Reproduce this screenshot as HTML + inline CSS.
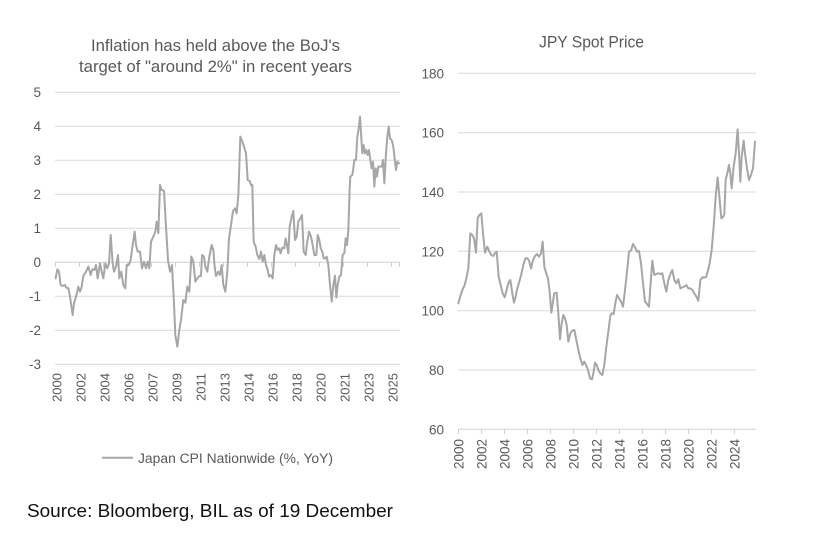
<!DOCTYPE html>
<html><head><meta charset="utf-8"><style>
html,body{margin:0;padding:0;background:#fff;}
svg{display:block;}
text{font-family:"Liberation Sans",Arial,sans-serif;fill:#595959;}
</style></head><body>
<svg width="838" height="544" viewBox="0 0 838 544" xmlns="http://www.w3.org/2000/svg">
<rect width="838" height="544" fill="#fff"/>

<!-- LEFT CHART -->
<text x="215.5" y="51" font-size="17" text-anchor="middle" textLength="249" lengthAdjust="spacingAndGlyphs">Inflation has held above the BoJ's</text>
<text x="215.5" y="72" font-size="17" text-anchor="middle" textLength="273" lengthAdjust="spacingAndGlyphs">target of "around 2%" in recent years</text>

<g stroke="#D9D9D9" stroke-width="1">
<line x1="55" x2="400" y1="92.3" y2="92.3"/>
<line x1="55" x2="400" y1="126.3" y2="126.3"/>
<line x1="55" x2="400" y1="160.3" y2="160.3"/>
<line x1="55" x2="400" y1="194.3" y2="194.3"/>
<line x1="55" x2="400" y1="228.3" y2="228.3"/>
<line x1="55" x2="400" y1="296.3" y2="296.3"/>
<line x1="55" x2="400" y1="330.3" y2="330.3"/>
<line x1="55" x2="400" y1="364.3" y2="364.3"/>
</g>
<g stroke="#D0D0D0" stroke-width="1">
<line x1="55" x2="400" y1="262.3" y2="262.3"/>
<line x1="55.5" x2="55.5" y1="262" y2="267"/>
<line x1="79.5" x2="79.5" y1="262" y2="267"/>
<line x1="103.5" x2="103.5" y1="262" y2="267"/>
<line x1="127.5" x2="127.5" y1="262" y2="267"/>
<line x1="151.5" x2="151.5" y1="262" y2="267"/>
<line x1="175.5" x2="175.5" y1="262" y2="267"/>
<line x1="199.5" x2="199.5" y1="262" y2="267"/>
<line x1="223.5" x2="223.5" y1="262" y2="267"/>
<line x1="247.5" x2="247.5" y1="262" y2="267"/>
<line x1="271.5" x2="271.5" y1="262" y2="267"/>
<line x1="295.5" x2="295.5" y1="262" y2="267"/>
<line x1="319.5" x2="319.5" y1="262" y2="267"/>
<line x1="343.5" x2="343.5" y1="262" y2="267"/>
<line x1="367.5" x2="367.5" y1="262" y2="267"/>
<line x1="391.5" x2="391.5" y1="262" y2="267"/>
<line x1="399.5" x2="399.5" y1="262" y2="267"/>
</g>

<g font-size="13.5" text-anchor="end">
<text x="41" y="97">5</text>
<text x="41" y="131">4</text>
<text x="41" y="165">3</text>
<text x="41" y="199">2</text>
<text x="41" y="233">1</text>
<text x="41" y="267">0</text>
<text x="41" y="301">-1</text>
<text x="41" y="335">-2</text>
<text x="41" y="369">-3</text>
</g>

<g font-size="13" text-anchor="end">
<text transform="translate(61.4,373) rotate(-90)">2000</text>
<text transform="translate(85.4,373) rotate(-90)">2002</text>
<text transform="translate(109.4,373) rotate(-90)">2004</text>
<text transform="translate(133.4,373) rotate(-90)">2006</text>
<text transform="translate(157.4,373) rotate(-90)">2007</text>
<text transform="translate(181.4,373) rotate(-90)">2009</text>
<text transform="translate(205.4,373) rotate(-90)">2011</text>
<text transform="translate(229.4,373) rotate(-90)">2013</text>
<text transform="translate(253.4,373) rotate(-90)">2014</text>
<text transform="translate(277.4,373) rotate(-90)">2016</text>
<text transform="translate(301.4,373) rotate(-90)">2018</text>
<text transform="translate(325.4,373) rotate(-90)">2020</text>
<text transform="translate(349.4,373) rotate(-90)">2021</text>
<text transform="translate(373.4,373) rotate(-90)">2023</text>
<text transform="translate(397.4,373) rotate(-90)">2025</text>
</g>

<g fill="none" stroke="#A6A6A6" stroke-width="2" stroke-linejoin="round" stroke-linecap="round">
<g transform="translate(50,170) scale(0.33333)">
<polyline vector-effect="non-scaling-stroke" points="17,325 22,298 27,305 32,345 38,348 45,345 48,352 55,355 60,380 68,435 72,400 78,380 85,350 90,365 95,350 100,318 108,305 115,290 122,315 127,298 133,300 138,285 143,325 150,280 155,305 160,325 166,280 172,295 177,280 182,195 188,280 192,305 198,290 204,255 208,325 214,305 220,345 226,355 230,285 236,285 242,270 248,225 254,185 258,225 263,245 270,245 276,295 282,275 288,295 293,275 298,295 303,215 310,200 316,185 320,155 325,190 330,45 335,60 342,62 348,170 354,270 360,305 366,285 372,400 376,495 382,530 388,480 393,450 400,390 406,398 412,350 418,365 424,260 430,275 436,335 442,325 448,318 453,318 456,255 462,260 466,290 472,305 478,260 485,225 490,240 494,290 498,318 505,305 510,315 515,285 520,345 526,365 532,305 537,204"/>
</g>
<g transform="translate(225,105) scale(0.33333)">
<polyline vector-effect="non-scaling-stroke" points="12,400 18,360 24,318 30,310 35,325 40,270 46,95 52,110 57,125 63,145 68,225 74,228 78,240 82,240 86,410 92,425 97,450 103,462 108,440 113,470 118,450 123,480 128,495 132,515 138,510 143,520 148,450 153,420 158,435 163,430 167,445 172,428 178,430 182,400 186,420 190,445 194,365 200,335 205,318 210,405 215,395 220,350 226,340 231,330 236,440 242,450 247,410 252,380 258,395 263,420 268,450 274,450 278,390 283,405 287,430 292,440 296,460 300,460 305,455 310,480 315,540 320,590 325,540 330,512 334,578 338,540 343,515 348,510 353,450 358,445 362,400 366,420 370,375 374,250 376,215 382,210 385,190 388,165 393,165 397,95 402,65 405,35 409,100 412,145 416,120 420,145 424,135 428,150 432,135 436,165 440,190 444,170 448,245 452,190 456,215 460,185 465,185 470,185 474,165 478,235 483,145 487,95 491,65 495,100 500,105 505,125 510,170 513,195 517,170 522,175"/>
</g>
</g>

<line x1="102" x2="133" y1="457.7" y2="457.7" stroke="#A6A6A6" stroke-width="2"/>
<text x="138" y="463" font-size="13.5" textLength="195" lengthAdjust="spacingAndGlyphs">Japan CPI Nationwide (%, YoY)</text>

<!-- RIGHT CHART -->
<text x="591.5" y="47.5" font-size="17" text-anchor="middle" textLength="105" lengthAdjust="spacingAndGlyphs">JPY Spot Price</text>

<g stroke="#D9D9D9" stroke-width="1">
<line x1="458" x2="756" y1="73.3" y2="73.3"/>
<line x1="458" x2="756" y1="132.7" y2="132.7"/>
<line x1="458" x2="756" y1="192" y2="192"/>
<line x1="458" x2="756" y1="251.3" y2="251.3"/>
<line x1="458" x2="756" y1="310.7" y2="310.7"/>
<line x1="458" x2="756" y1="370" y2="370"/>
</g>
<g stroke="#D0D0D0" stroke-width="1">
<line x1="458" x2="756" y1="429.3" y2="429.3"/>
<line x1="458.5" x2="458.5" y1="429" y2="434"/>
<line x1="481.5" x2="481.5" y1="429" y2="434"/>
<line x1="504.5" x2="504.5" y1="429" y2="434"/>
<line x1="527.5" x2="527.5" y1="429" y2="434"/>
<line x1="550.5" x2="550.5" y1="429" y2="434"/>
<line x1="573.5" x2="573.5" y1="429" y2="434"/>
<line x1="596.5" x2="596.5" y1="429" y2="434"/>
<line x1="619.5" x2="619.5" y1="429" y2="434"/>
<line x1="642.5" x2="642.5" y1="429" y2="434"/>
<line x1="665.5" x2="665.5" y1="429" y2="434"/>
<line x1="688.5" x2="688.5" y1="429" y2="434"/>
<line x1="711.5" x2="711.5" y1="429" y2="434"/>
<line x1="734.5" x2="734.5" y1="429" y2="434"/>
</g>

<g font-size="13.5" text-anchor="end">
<text x="444" y="78.3">180</text>
<text x="444" y="137.7">160</text>
<text x="444" y="197">140</text>
<text x="444" y="256.3">120</text>
<text x="444" y="315.7">100</text>
<text x="444" y="375">80</text>
<text x="444" y="434.3">60</text>
</g>

<g font-size="13.5" text-anchor="end">
<text transform="translate(463.6,439) rotate(-90)">2000</text>
<text transform="translate(486.6,439) rotate(-90)">2002</text>
<text transform="translate(509.6,439) rotate(-90)">2004</text>
<text transform="translate(532.6,439) rotate(-90)">2006</text>
<text transform="translate(555.6,439) rotate(-90)">2008</text>
<text transform="translate(578.6,439) rotate(-90)">2010</text>
<text transform="translate(601.6,439) rotate(-90)">2012</text>
<text transform="translate(624.6,439) rotate(-90)">2014</text>
<text transform="translate(647.6,439) rotate(-90)">2016</text>
<text transform="translate(670.6,439) rotate(-90)">2018</text>
<text transform="translate(693.6,439) rotate(-90)">2020</text>
<text transform="translate(716.6,439) rotate(-90)">2022</text>
<text transform="translate(739.6,439) rotate(-90)">2024</text>
</g>

<g fill="none" stroke="#A6A6A6" stroke-width="2" stroke-linejoin="round" stroke-linecap="round">
<g transform="translate(455,200) scale(0.33333)">
<polyline vector-effect="non-scaling-stroke" points="10,310 17,285 22,270 28,258 34,235 40,205 46,100 52,105 57,115 63,158 68,55 73,45 79,40 84,100 90,158 97,140 103,155 109,165 115,168 120,160 125,155 131,230 137,255 143,280 149,292 155,270 160,250 166,240 172,280 177,308 182,290 187,265 193,245 199,222 205,195 211,175 217,175 222,182 228,205 234,180 240,168 246,162 252,170 258,160 263,125 268,200 273,218 279,235 284,275 289,338 294,305 298,280 305,278 310,340 315,418 320,370 325,345 330,355 335,375 340,425 346,400 352,392 358,390 364,420 370,450 376,475 382,495 388,485 393,495 399,510 405,535 411,538 416,515 420,488 425,495 430,510 436,520 442,525 448,495 454,440 460,395 465,355"/>
</g>
<g transform="translate(605,120) scale(0.33333)">
<polyline vector-effect="non-scaling-stroke" points="15,590 20,580 26,582 30,555 36,525 42,535 48,545 54,560 60,510 66,455 72,395 78,392 84,372 90,382 96,395 102,393 108,430 114,490 120,545 126,552 132,560 138,475 142,422 148,465 154,462 160,460 166,462 172,460 178,490 184,515 190,480 196,462 202,450 208,480 214,490 220,478 226,505 232,502 238,500 244,495 250,505 256,505 262,510 268,520 274,530 280,542 286,480 292,472 298,472 303,472 308,455 314,430 320,390 326,320 332,230 338,172 344,240 349,295 355,290 358,282 362,180 368,155 372,135 376,160 380,205 386,140 392,100 398,28 402,100 406,185 410,110 416,62 420,100 426,145 432,180 438,165 444,145 450,65"/>
</g>
</g>

<!-- SOURCE -->
<text x="27" y="517" font-size="18.5" style="fill:#111" textLength="366" lengthAdjust="spacingAndGlyphs">Source: Bloomberg, BIL as of 19 December</text>
</svg>
</body></html>
